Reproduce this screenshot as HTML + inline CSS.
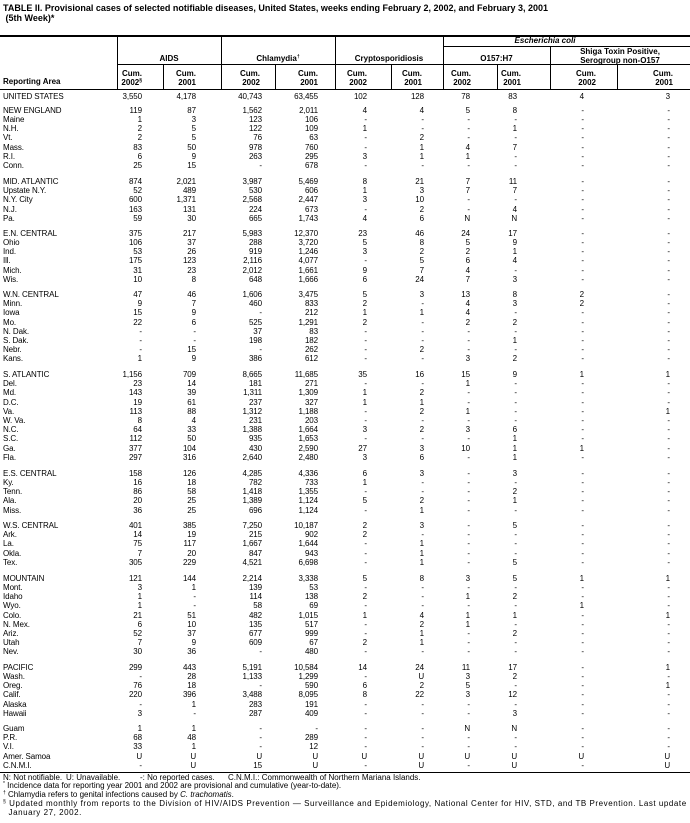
<!DOCTYPE html>
<html><head><meta charset="utf-8"><style>
body{margin:0;width:690px;height:823px;position:relative;background:#fff;font-family:"Liberation Sans",Arial,sans-serif;color:#000;overflow:hidden}
.t{position:absolute;left:3px;font-weight:bold;font-size:9px;white-space:nowrap}
.h{position:absolute;background:#000}
.g{position:absolute;font-weight:bold;font-size:8px;text-align:center;line-height:8.5px;white-space:nowrap}
.cm{position:absolute;font-weight:bold;font-size:8px;text-align:right;width:40px;line-height:9px}
sup{font-size:5px;line-height:0;vertical-align:0;position:relative;top:-3px}
.r{position:absolute;left:0;width:690px;height:9px;font-size:8px;line-height:9px;letter-spacing:-0.1px}
.r b{font-weight:normal;position:absolute;left:3px;white-space:nowrap}
.r span{position:absolute;width:40px;text-align:right}
.r span:nth-of-type(1){left:102px}.r span:nth-of-type(2){left:156px}.r span:nth-of-type(3){left:222px}
.r span:nth-of-type(4){left:278px}.r span:nth-of-type(5){left:327px}.r span:nth-of-type(6){left:384px}
.r span:nth-of-type(7){left:430px}.r span:nth-of-type(8){left:477px}.r span:nth-of-type(9){left:544px}
.r span:nth-of-type(10){left:630px}
.f{position:absolute;left:3px;font-size:8px;line-height:8.5px;white-space:nowrap;letter-spacing:0.55px}
</style></head><body>
<div class="t" style="top:3px">TABLE II. Provisional cases of selected notifiable diseases, United States, weeks ending February 2, 2002, and February 3, 2001</div>
<div class="t" style="top:13px">&nbsp;(5th Week)*</div>

<div class="h" style="left:0;top:35px;width:690px;height:1.5px"></div>
<div class="h" style="left:443px;top:46px;width:247px;height:1px"></div>
<div class="h" style="left:117px;top:64px;width:573px;height:1px"></div>
<div class="h" style="left:0;top:89px;width:690px;height:1px"></div>
<div class="h" style="left:117px;top:35px;width:1px;height:54px"></div>
<div class="h" style="left:221px;top:35px;width:1px;height:54px"></div>
<div class="h" style="left:335px;top:35px;width:1px;height:54px"></div>
<div class="h" style="left:443px;top:35px;width:1px;height:54px"></div>
<div class="h" style="left:550px;top:46px;width:1px;height:43px"></div>
<div class="h" style="left:163px;top:64px;width:1px;height:25px"></div>
<div class="h" style="left:275px;top:64px;width:1px;height:25px"></div>
<div class="h" style="left:391px;top:64px;width:1px;height:25px"></div>
<div class="h" style="left:497px;top:64px;width:1px;height:25px"></div>
<div class="h" style="left:617px;top:64px;width:1px;height:25px"></div>

<div class="g" style="left:470px;width:150px;top:37px;font-style:italic">Escherichia coli</div>
<div class="g" style="left:117px;width:104px;top:55px">AIDS</div>
<div class="g" style="left:221px;width:114px;top:55px">Chlamydia<sup>†</sup></div>
<div class="g" style="left:335px;width:108px;top:55px">Cryptosporidiosis</div>
<div class="g" style="left:443px;width:107px;top:55px">O157:H7</div>
<div class="g" style="left:550px;width:140px;top:48px">Shiga Toxin Positive,<br>Serogroup non-O157</div>
<div class="g" style="left:3px;top:78px;text-align:left">Reporting Area</div>
<div class="cm" style="left:102px;top:69px">Cum.<br>2002<sup>§</sup></div>
<div class="cm" style="left:156px;top:69px">Cum.<br>2001</div>
<div class="cm" style="left:220px;top:69px">Cum.<br>2002</div>
<div class="cm" style="left:278px;top:69px">Cum.<br>2001</div>
<div class="cm" style="left:327px;top:69px">Cum.<br>2002</div>
<div class="cm" style="left:382px;top:69px">Cum.<br>2001</div>
<div class="cm" style="left:431px;top:69px">Cum.<br>2002</div>
<div class="cm" style="left:481px;top:69px">Cum.<br>2001</div>
<div class="cm" style="left:556px;top:69px">Cum.<br>2002</div>
<div class="cm" style="left:633px;top:69px">Cum.<br>2001</div>

<div class="r" style="top:92px"><b>UNITED STATES</b><span>3,550</span><span>4,178</span><span>40,743</span><span>63,455</span><span>102</span><span>128</span><span>78</span><span>83</span><span>4</span><span>3</span></div>

<div class="r" style="top:106px"><b>NEW ENGLAND</b><span>119</span><span>87</span><span>1,562</span><span>2,011</span><span>4</span><span>4</span><span>5</span><span>8</span><span>-</span><span>-</span></div>
<div class="r" style="top:115px"><b>Maine</b><span>1</span><span>3</span><span>123</span><span>106</span><span>-</span><span>-</span><span>-</span><span>-</span><span>-</span><span>-</span></div>
<div class="r" style="top:124px"><b>N.H.</b><span>2</span><span>5</span><span>122</span><span>109</span><span>1</span><span>-</span><span>-</span><span>1</span><span>-</span><span>-</span></div>
<div class="r" style="top:133px"><b>Vt.</b><span>2</span><span>5</span><span>76</span><span>63</span><span>-</span><span>2</span><span>-</span><span>-</span><span>-</span><span>-</span></div>
<div class="r" style="top:143px"><b>Mass.</b><span>83</span><span>50</span><span>978</span><span>760</span><span>-</span><span>1</span><span>4</span><span>7</span><span>-</span><span>-</span></div>
<div class="r" style="top:152px"><b>R.I.</b><span>6</span><span>9</span><span>263</span><span>295</span><span>3</span><span>1</span><span>1</span><span>-</span><span>-</span><span>-</span></div>
<div class="r" style="top:161px"><b>Conn.</b><span>25</span><span>15</span><span>-</span><span>678</span><span>-</span><span>-</span><span>-</span><span>-</span><span>-</span><span>-</span></div>

<div class="r" style="top:177px"><b>MID. ATLANTIC</b><span>874</span><span>2,021</span><span>3,987</span><span>5,469</span><span>8</span><span>21</span><span>7</span><span>11</span><span>-</span><span>-</span></div>
<div class="r" style="top:186px"><b>Upstate N.Y.</b><span>52</span><span>489</span><span>530</span><span>606</span><span>1</span><span>3</span><span>7</span><span>7</span><span>-</span><span>-</span></div>
<div class="r" style="top:195px"><b>N.Y. City</b><span>600</span><span>1,371</span><span>2,568</span><span>2,447</span><span>3</span><span>10</span><span>-</span><span>-</span><span>-</span><span>-</span></div>
<div class="r" style="top:205px"><b>N.J.</b><span>163</span><span>131</span><span>224</span><span>673</span><span>-</span><span>2</span><span>-</span><span>4</span><span>-</span><span>-</span></div>
<div class="r" style="top:214px"><b>Pa.</b><span>59</span><span>30</span><span>665</span><span>1,743</span><span>4</span><span>6</span><span>N</span><span>N</span><span>-</span><span>-</span></div>

<div class="r" style="top:229px"><b>E.N. CENTRAL</b><span>375</span><span>217</span><span>5,983</span><span>12,370</span><span>23</span><span>46</span><span>24</span><span>17</span><span>-</span><span>-</span></div>
<div class="r" style="top:238px"><b>Ohio</b><span>106</span><span>37</span><span>288</span><span>3,720</span><span>5</span><span>8</span><span>5</span><span>9</span><span>-</span><span>-</span></div>
<div class="r" style="top:247px"><b>Ind.</b><span>53</span><span>26</span><span>919</span><span>1,246</span><span>3</span><span>2</span><span>2</span><span>1</span><span>-</span><span>-</span></div>
<div class="r" style="top:256px"><b>Ill.</b><span>175</span><span>123</span><span>2,116</span><span>4,077</span><span>-</span><span>5</span><span>6</span><span>4</span><span>-</span><span>-</span></div>
<div class="r" style="top:266px"><b>Mich.</b><span>31</span><span>23</span><span>2,012</span><span>1,661</span><span>9</span><span>7</span><span>4</span><span>-</span><span>-</span><span>-</span></div>
<div class="r" style="top:275px"><b>Wis.</b><span>10</span><span>8</span><span>648</span><span>1,666</span><span>6</span><span>24</span><span>7</span><span>3</span><span>-</span><span>-</span></div>

<div class="r" style="top:290px"><b>W.N. CENTRAL</b><span>47</span><span>46</span><span>1,606</span><span>3,475</span><span>5</span><span>3</span><span>13</span><span>8</span><span>2</span><span>-</span></div>
<div class="r" style="top:299px"><b>Minn.</b><span>9</span><span>7</span><span>460</span><span>833</span><span>2</span><span>-</span><span>4</span><span>3</span><span>2</span><span>-</span></div>
<div class="r" style="top:308px"><b>Iowa</b><span>15</span><span>9</span><span>-</span><span>212</span><span>1</span><span>1</span><span>4</span><span>-</span><span>-</span><span>-</span></div>
<div class="r" style="top:318px"><b>Mo.</b><span>22</span><span>6</span><span>525</span><span>1,291</span><span>2</span><span>-</span><span>2</span><span>2</span><span>-</span><span>-</span></div>
<div class="r" style="top:327px"><b>N. Dak.</b><span>-</span><span>-</span><span>37</span><span>83</span><span>-</span><span>-</span><span>-</span><span>-</span><span>-</span><span>-</span></div>
<div class="r" style="top:336px"><b>S. Dak.</b><span>-</span><span>-</span><span>198</span><span>182</span><span>-</span><span>-</span><span>-</span><span>1</span><span>-</span><span>-</span></div>
<div class="r" style="top:345px"><b>Nebr.</b><span>-</span><span>15</span><span>-</span><span>262</span><span>-</span><span>2</span><span>-</span><span>-</span><span>-</span><span>-</span></div>
<div class="r" style="top:354px"><b>Kans.</b><span>1</span><span>9</span><span>386</span><span>612</span><span>-</span><span>-</span><span>3</span><span>2</span><span>-</span><span>-</span></div>

<div class="r" style="top:370px"><b>S. ATLANTIC</b><span>1,156</span><span>709</span><span>8,665</span><span>11,685</span><span>35</span><span>16</span><span>15</span><span>9</span><span>1</span><span>1</span></div>
<div class="r" style="top:379px"><b>Del.</b><span>23</span><span>14</span><span>181</span><span>271</span><span>-</span><span>-</span><span>1</span><span>-</span><span>-</span><span>-</span></div>
<div class="r" style="top:388px"><b>Md.</b><span>143</span><span>39</span><span>1,311</span><span>1,309</span><span>1</span><span>2</span><span>-</span><span>-</span><span>-</span><span>-</span></div>
<div class="r" style="top:398px"><b>D.C.</b><span>19</span><span>61</span><span>237</span><span>327</span><span>1</span><span>1</span><span>-</span><span>-</span><span>-</span><span>-</span></div>
<div class="r" style="top:407px"><b>Va.</b><span>113</span><span>88</span><span>1,312</span><span>1,188</span><span>-</span><span>2</span><span>1</span><span>-</span><span>-</span><span>1</span></div>
<div class="r" style="top:416px"><b>W. Va.</b><span>8</span><span>4</span><span>231</span><span>203</span><span>-</span><span>-</span><span>-</span><span>-</span><span>-</span><span>-</span></div>
<div class="r" style="top:425px"><b>N.C.</b><span>64</span><span>33</span><span>1,388</span><span>1,664</span><span>3</span><span>2</span><span>3</span><span>6</span><span>-</span><span>-</span></div>
<div class="r" style="top:434px"><b>S.C.</b><span>112</span><span>50</span><span>935</span><span>1,653</span><span>-</span><span>-</span><span>-</span><span>1</span><span>-</span><span>-</span></div>
<div class="r" style="top:444px"><b>Ga.</b><span>377</span><span>104</span><span>430</span><span>2,590</span><span>27</span><span>3</span><span>10</span><span>1</span><span>1</span><span>-</span></div>
<div class="r" style="top:453px"><b>Fla.</b><span>297</span><span>316</span><span>2,640</span><span>2,480</span><span>3</span><span>6</span><span>-</span><span>1</span><span>-</span><span>-</span></div>

<div class="r" style="top:469px"><b>E.S. CENTRAL</b><span>158</span><span>126</span><span>4,285</span><span>4,336</span><span>6</span><span>3</span><span>-</span><span>3</span><span>-</span><span>-</span></div>
<div class="r" style="top:478px"><b>Ky.</b><span>16</span><span>18</span><span>782</span><span>733</span><span>1</span><span>-</span><span>-</span><span>-</span><span>-</span><span>-</span></div>
<div class="r" style="top:487px"><b>Tenn.</b><span>86</span><span>58</span><span>1,418</span><span>1,355</span><span>-</span><span>-</span><span>-</span><span>2</span><span>-</span><span>-</span></div>
<div class="r" style="top:496px"><b>Ala.</b><span>20</span><span>25</span><span>1,389</span><span>1,124</span><span>5</span><span>2</span><span>-</span><span>1</span><span>-</span><span>-</span></div>
<div class="r" style="top:506px"><b>Miss.</b><span>36</span><span>25</span><span>696</span><span>1,124</span><span>-</span><span>1</span><span>-</span><span>-</span><span>-</span><span>-</span></div>

<div class="r" style="top:521px"><b>W.S. CENTRAL</b><span>401</span><span>385</span><span>7,250</span><span>10,187</span><span>2</span><span>3</span><span>-</span><span>5</span><span>-</span><span>-</span></div>
<div class="r" style="top:530px"><b>Ark.</b><span>14</span><span>19</span><span>215</span><span>902</span><span>2</span><span>-</span><span>-</span><span>-</span><span>-</span><span>-</span></div>
<div class="r" style="top:539px"><b>La.</b><span>75</span><span>117</span><span>1,667</span><span>1,644</span><span>-</span><span>1</span><span>-</span><span>-</span><span>-</span><span>-</span></div>
<div class="r" style="top:549px"><b>Okla.</b><span>7</span><span>20</span><span>847</span><span>943</span><span>-</span><span>1</span><span>-</span><span>-</span><span>-</span><span>-</span></div>
<div class="r" style="top:558px"><b>Tex.</b><span>305</span><span>229</span><span>4,521</span><span>6,698</span><span>-</span><span>1</span><span>-</span><span>5</span><span>-</span><span>-</span></div>

<div class="r" style="top:574px"><b>MOUNTAIN</b><span>121</span><span>144</span><span>2,214</span><span>3,338</span><span>5</span><span>8</span><span>3</span><span>5</span><span>1</span><span>1</span></div>
<div class="r" style="top:583px"><b>Mont.</b><span>3</span><span>1</span><span>139</span><span>53</span><span>-</span><span>-</span><span>-</span><span>-</span><span>-</span><span>-</span></div>
<div class="r" style="top:592px"><b>Idaho</b><span>1</span><span>-</span><span>114</span><span>138</span><span>2</span><span>-</span><span>1</span><span>2</span><span>-</span><span>-</span></div>
<div class="r" style="top:601px"><b>Wyo.</b><span>1</span><span>-</span><span>58</span><span>69</span><span>-</span><span>-</span><span>-</span><span>-</span><span>1</span><span>-</span></div>
<div class="r" style="top:611px"><b>Colo.</b><span>21</span><span>51</span><span>482</span><span>1,015</span><span>1</span><span>4</span><span>1</span><span>1</span><span>-</span><span>1</span></div>
<div class="r" style="top:620px"><b>N. Mex.</b><span>6</span><span>10</span><span>135</span><span>517</span><span>-</span><span>2</span><span>1</span><span>-</span><span>-</span><span>-</span></div>
<div class="r" style="top:629px"><b>Ariz.</b><span>52</span><span>37</span><span>677</span><span>999</span><span>-</span><span>1</span><span>-</span><span>2</span><span>-</span><span>-</span></div>
<div class="r" style="top:638px"><b>Utah</b><span>7</span><span>9</span><span>609</span><span>67</span><span>2</span><span>1</span><span>-</span><span>-</span><span>-</span><span>-</span></div>
<div class="r" style="top:647px"><b>Nev.</b><span>30</span><span>36</span><span>-</span><span>480</span><span>-</span><span>-</span><span>-</span><span>-</span><span>-</span><span>-</span></div>

<div class="r" style="top:663px"><b>PACIFIC</b><span>299</span><span>443</span><span>5,191</span><span>10,584</span><span>14</span><span>24</span><span>11</span><span>17</span><span>-</span><span>1</span></div>
<div class="r" style="top:672px"><b>Wash.</b><span>-</span><span>28</span><span>1,133</span><span>1,299</span><span>-</span><span>U</span><span>3</span><span>2</span><span>-</span><span>-</span></div>
<div class="r" style="top:681px"><b>Oreg.</b><span>76</span><span>18</span><span>-</span><span>590</span><span>6</span><span>2</span><span>5</span><span>-</span><span>-</span><span>1</span></div>
<div class="r" style="top:690px"><b>Calif.</b><span>220</span><span>396</span><span>3,488</span><span>8,095</span><span>8</span><span>22</span><span>3</span><span>12</span><span>-</span><span>-</span></div>
<div class="r" style="top:700px"><b>Alaska</b><span>-</span><span>1</span><span>283</span><span>191</span><span>-</span><span>-</span><span>-</span><span>-</span><span>-</span><span>-</span></div>
<div class="r" style="top:709px"><b>Hawaii</b><span>3</span><span>-</span><span>287</span><span>409</span><span>-</span><span>-</span><span>-</span><span>3</span><span>-</span><span>-</span></div>

<div class="r" style="top:724px"><b>Guam</b><span>1</span><span>1</span><span>-</span><span>-</span><span>-</span><span>-</span><span>N</span><span>N</span><span>-</span><span>-</span></div>
<div class="r" style="top:733px"><b>P.R.</b><span>68</span><span>48</span><span>-</span><span>289</span><span>-</span><span>-</span><span>-</span><span>-</span><span>-</span><span>-</span></div>
<div class="r" style="top:742px"><b>V.I.</b><span>33</span><span>1</span><span>-</span><span>12</span><span>-</span><span>-</span><span>-</span><span>-</span><span>-</span><span>-</span></div>
<div class="r" style="top:752px"><b>Amer. Samoa</b><span>U</span><span>U</span><span>U</span><span>U</span><span>U</span><span>U</span><span>U</span><span>U</span><span>U</span><span>U</span></div>
<div class="r" style="top:761px"><b>C.N.M.I.</b><span>-</span><span>U</span><span>15</span><span>U</span><span>-</span><span>U</span><span>-</span><span>U</span><span>-</span><span>U</span></div>

<div class="h" style="left:0;top:772px;width:690px;height:1.2px"></div>
<div class="f" style="top:774px;letter-spacing:0">N: Not notifiable.</div>
<div class="f" style="top:774px;left:66px;letter-spacing:0">U: Unavailable.</div>
<div class="f" style="top:774px;left:140px;letter-spacing:0">-: No reported cases.</div>
<div class="f" style="top:774px;left:228px;letter-spacing:0">C.N.M.I.: Commonwealth of Northern Mariana Islands.</div>
<div class="f" style="top:782px;letter-spacing:0"><sup>*</sup> Incidence data for reporting year 2001 and 2002 are provisional and cumulative (year-to-date).</div>
<div class="f" style="top:791px;letter-spacing:0"><sup>†</sup> Chlamydia refers to genital infections caused by <i>C. trachomatis</i>.</div>
<div class="f" style="top:800px"><sup>§</sup> Updated monthly from reports to the Division of HIV/AIDS Prevention — Surveillance and Epidemiology, National Center for HIV, STD, and TB Prevention. Last update<br>&nbsp;&nbsp;January 27, 2002.</div>
</body></html>
